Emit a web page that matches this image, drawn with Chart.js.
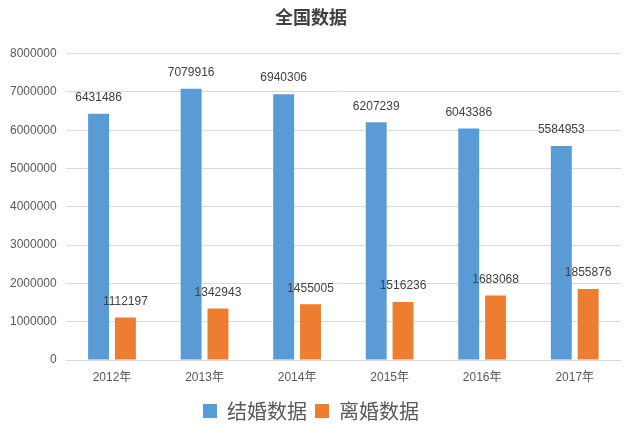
<!DOCTYPE html>
<html>
<head>
<meta charset="utf-8">
<script src="https://cdn.jsdelivr.net/npm/chart.js@4/dist/chart.umd.min.js"></script>
<style>
  html, body { margin: 0; padding: 0; background: #fff; }
  #wrap { width: 630px; height: 436px; }
</style>
</head>
<body>
<div id="wrap"><canvas id="chart"></canvas></div>
<script>
const years = ["2012年", "2013年", "2014年", "2015年", "2016年", "2017年"];
const marriages = [6431486, 7079916, 6940306, 6207239, 6043386, 5584953];
const divorces = [1112197, 1342943, 1455005, 1516236, 1683068, 1855876];

const textFont = "'Liberation Sans', 'Noto Sans CJK SC', sans-serif";

// value labels above each bar
const valueLabels = {
  id: "valueLabels",
  afterDatasetsDraw(chart) {
    const ctx = chart.ctx;
    ctx.save();
    ctx.font = "12px " + textFont;
    ctx.fillStyle = "#404040";
    ctx.textAlign = "center";
    ctx.textBaseline = "middle";
    chart.data.datasets.forEach((ds, i) => {
      chart.getDatasetMeta(i).data.forEach((bar, j) => {
        ctx.fillText(String(ds.data[j]), bar.x, bar.y - 16);
      });
    });
    ctx.restore();
  }
};

new Chart(document.getElementById("chart"), {
  type: "bar",
  data: {
    labels: years,
    datasets: [
      { label: "结婚数据", data: marriages, backgroundColor: "#5B9BD5" },
      { label: "离婚数据", data: divorces, backgroundColor: "#ED7D31" }
    ]
  },
  options: {
    responsive: true,
    maintainAspectRatio: false,
    animation: false,
    categoryPercentage: 0.58,
    barPercentage: 0.78,
    layout: { padding: { left: 1, right: 9, top: 0, bottom: 5 } },
    scales: {
      x: {
        grid: { display: false, drawTicks: false },
        border: { display: false },
        ticks: { color: "#595959", padding: 10, font: { size: 12, family: textFont } },
        afterFit: (scale) => { scale.height = 33; }
      },
      y: {
        min: 0,
        max: 8000000,
        grid: { color: "#D9D9D9", drawTicks: false },
        border: { display: false },
        ticks: {
          stepSize: 1000000,
          color: "#595959",
          padding: 9,
          font: { size: 12, family: textFont },
          callback: (v) => String(v)
        }
      }
    },
    plugins: {
      title: {
        display: true,
        text: "全国数据",
        color: "#404040",
        font: { size: 18, weight: "bold", family: "'Noto Sans CJK SC', sans-serif" },
        padding: { top: 6, bottom: 26 }
      },
      legend: {
        position: "bottom",
        labels: {
          boxWidth: 14,
          boxHeight: 14,
          padding: 8,
          color: "#595959",
          font: { size: 20, family: "'Noto Sans CJK SC', sans-serif" }
        }
      },
      tooltip: { enabled: false }
    }
  },
  plugins: [valueLabels]
});
</script>
</body>
</html>
